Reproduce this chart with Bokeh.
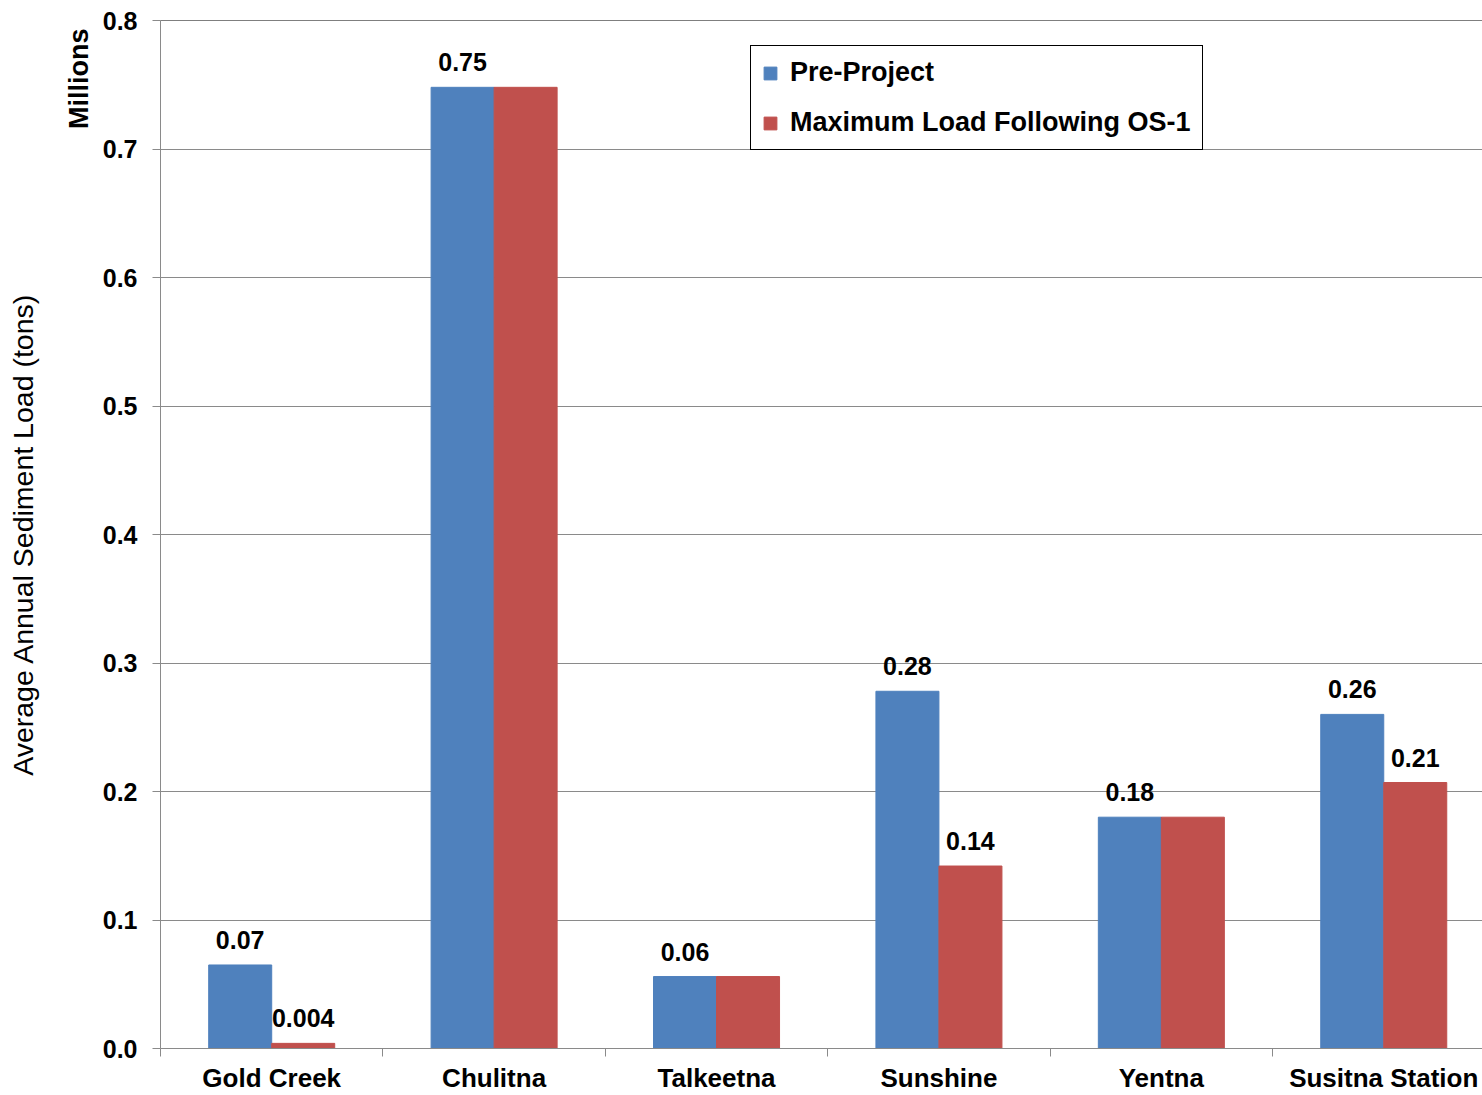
from bokeh.plotting import figure
from bokeh.models import (ColumnDataSource, Range1d, FixedTicker, NumeralTickFormatter,
                          Legend, LegendItem, LabelSet, Span, Title, LinearAxis)
from bokeh.core.properties import value
from bokeh.transform import dodge
from bokeh.embed import file_html
from bokeh.resources import INLINE

categories = ["Gold Creek", "Chulitna", "Talkeetna", "Sunshine", "Yentna", "Susitna Station"]
pre_project = [0.065, 0.748, 0.056, 0.278, 0.180, 0.260]
max_load_os1 = [0.004, 0.748, 0.056, 0.142, 0.180, 0.207]
pre_labels = ["0.07", "0.75", "0.06", "0.28", "0.18", "0.26"]
os1_labels = ["0.004", "", "", "0.14", "", "0.21"]
y_ticks = [0.0, 0.1, 0.2, 0.3, 0.4, 0.5, 0.6, 0.7, 0.8]
series_names = ["Pre-Project", "Maximum Load Following OS-1"]
y_title = "Average Annual Sediment Load (tons)"
unit_label = "Millions"

BLUE = "#4F81BD"
RED = "#C0504D"
GRID = "#8a8a8a"
FONT = "Liberation Sans"

xs = list(range(len(categories)))
src = ColumnDataSource(dict(x=xs, cat=categories, pre=pre_project, os1=max_load_os1,
                            pre_lab=pre_labels, os1_lab=os1_labels))

p = figure(width=1482, height=1095, x_range=Range1d(-0.5, 5.444), y_range=Range1d(0, 0.8),
           output_backend="svg", toolbar_location=None,
           min_border_left=160, min_border_right=0, min_border_top=20, min_border_bottom=47)
p.outline_line_color = None
p.background_fill_color = "white"
p.border_fill_color = "white"

BW = 0.2833
off = BW / 2
r_pre = p.vbar(x=dodge("x", -off, range=p.x_range), top="pre", width=BW, source=src,
               fill_color=BLUE, line_color=BLUE)
r_os1 = p.vbar(x=dodge("x", off, range=p.x_range), top="os1", width=BW, source=src,
               fill_color=RED, line_color=RED)

# grid
p.xgrid.visible = False
p.ygrid.ticker = FixedTicker(ticks=y_ticks)
p.ygrid.grid_line_color = GRID
p.ygrid.grid_line_width = 1

p.add_layout(Span(location=y_ticks[-1], dimension="width", line_color="black", line_width=1))

# y axis
ya = p.yaxis[0]
ya.ticker = FixedTicker(ticks=y_ticks)
ya.formatter = NumeralTickFormatter(format="0.0")
ya.major_tick_in = 0
ya.major_tick_out = 8
ya.minor_tick_line_color = None
ya.axis_line_color = GRID
ya.major_tick_line_color = GRID
ya.major_label_text_font = FONT
ya.major_label_text_font_style = "bold"
ya.major_label_text_font_size = "25px"
ya.major_label_text_color = "black"
ya.major_label_standoff = 15

# "Millions" next to the tick labels
p.add_layout(Title(text=unit_label, align="right", offset=8, standoff=11,
                   text_font=FONT, text_font_style="bold", text_font_size="27px",
                   text_color="black"), "left")

# outer axis carrying only the y title
title_axis = LinearAxis(ticker=FixedTicker(ticks=[]), axis_label=y_title,
                        axis_line_color=None, major_tick_line_color=None,
                        minor_tick_line_color=None, major_tick_out=0, major_tick_in=0,
                        minor_tick_out=0, minor_tick_in=0, major_label_standoff=0,
                        axis_label_standoff=18,
                        axis_label_text_font=FONT, axis_label_text_font_style="normal",
                        axis_label_text_font_size="28.5px", axis_label_text_color="black")
p.add_layout(title_axis, "left")

# x axis: labels at category centres, tick marks at category boundaries
xa = p.xaxis[0]
xa.ticker = FixedTicker(ticks=xs, minor_ticks=[i - 0.5 for i in range(len(categories) + 1)])
xa.major_label_overrides = {i: c for i, c in zip(xs, categories)}
xa.major_tick_in = 0
xa.major_tick_out = 0
xa.major_tick_line_color = None
xa.minor_tick_in = 0
xa.minor_tick_out = 8
xa.minor_tick_line_color = GRID
xa.axis_line_color = GRID
xa.major_label_standoff = 6
xa.major_label_text_font = FONT
xa.major_label_text_font_style = "bold"
xa.major_label_text_font_size = "26px"
xa.major_label_text_color = "black"

# data labels
for col, lab, dx in (("pre", "pre_lab", -off), ("os1", "os1_lab", off)):
    p.add_layout(LabelSet(x=dodge("x", dx, range=p.x_range), y=col, text=lab, source=src,
                          y_offset=16, text_align="center", text_baseline="alphabetic",
                          text_font=value(FONT), text_font_style="bold",
                          text_font_size="25px", text_color="black"))

# legend
legend = Legend(items=[LegendItem(label=series_names[0], renderers=[r_pre]),
                       LegendItem(label=series_names[1], renderers=[r_os1])],
                location=(590, 898), orientation="vertical",
                border_line_color="black", border_line_width=1, border_line_alpha=1,
                background_fill_color="white", background_fill_alpha=1,
                padding=11, spacing=19, margin=0,
                label_height=31, glyph_height=16, glyph_width=16, label_standoff=12,
                label_text_font=FONT, label_text_font_style="bold",
                label_text_font_size="27px", label_text_color="black")
p.add_layout(legend)

open("out.html", "w").write(file_html(p, INLINE))
